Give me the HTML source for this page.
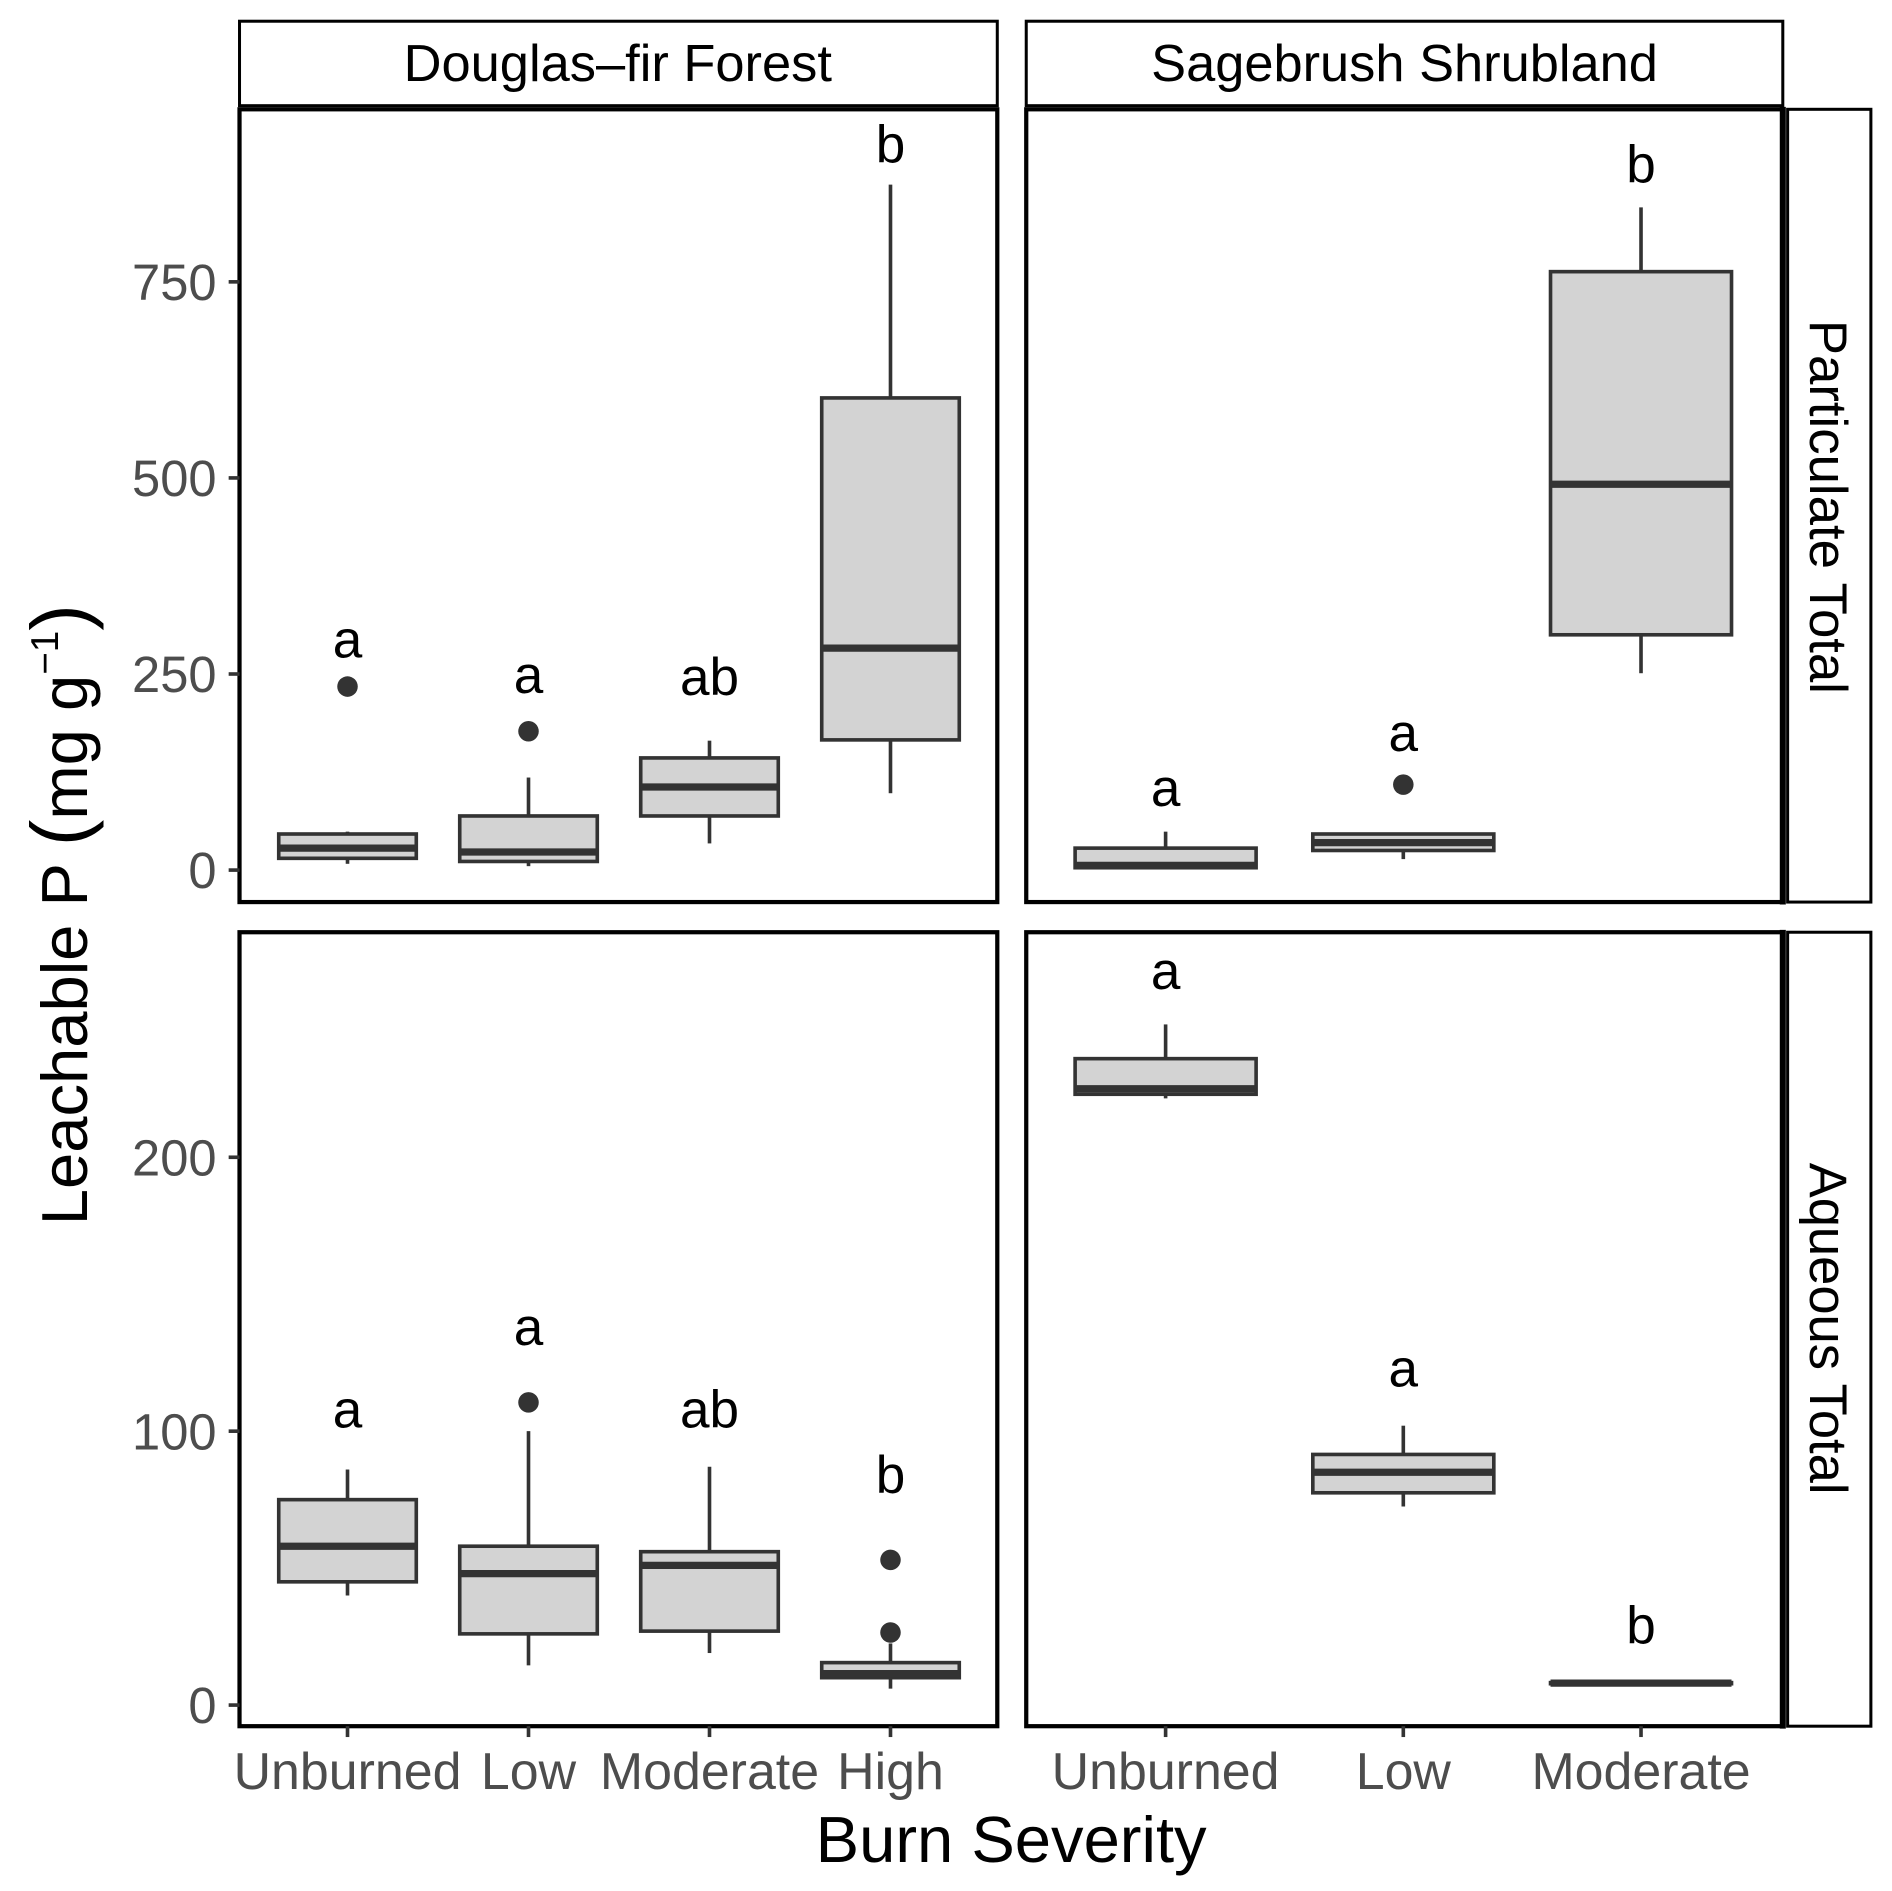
<!DOCTYPE html>
<html><head><meta charset="utf-8"><style>
html,body{margin:0;padding:0;background:#fff}
svg{display:block}
text{font-family:"Liberation Sans",sans-serif}
</style></head><body>
<svg id="chart" width="1892" height="1891" viewBox="0 0 1568 1567" xmlns="http://www.w3.org/2000/svg">
  <g>
    <rect x="198.5" y="17.5" width="628" height="70" fill="#fff" stroke="#000" stroke-width="2.5"/>
    <text x="512" y="67" font-size="43" text-anchor="middle" textLength="355" lengthAdjust="spacingAndGlyphs">Douglas–fir Forest</text>
  </g>
  <g>
    <rect x="850.5" y="17.5" width="627" height="70" fill="#fff" stroke="#000" stroke-width="2.5"/>
    <text x="1164" y="67" font-size="43" text-anchor="middle" textLength="420" lengthAdjust="spacingAndGlyphs">Sagebrush Shrubland</text>
  </g>
  <g>
    <rect x="1481.5" y="90.5" width="69" height="657" fill="#fff" stroke="#000" stroke-width="2.5"/>
    <text transform="translate(1500,420) rotate(90)" font-size="44" text-anchor="middle" textLength="310" lengthAdjust="spacingAndGlyphs">Particulate Total</text>
  </g>
  <g>
    <rect x="1481.5" y="772.5" width="69" height="658" fill="#fff" stroke="#000" stroke-width="2.5"/>
    <text transform="translate(1500,1101) rotate(90)" font-size="44" text-anchor="middle" textLength="275" lengthAdjust="spacingAndGlyphs">Aqueous Total</text>
  </g>
  <text transform="translate(72,758) rotate(-90)" font-size="54" text-anchor="middle">Leachable P <tspan font-size="66">(</tspan>mg g<tspan dy="-24" font-size="32">−1</tspan><tspan dy="24" font-size="66">)</tspan></text>
  <text x="838" y="1543" font-size="54" text-anchor="middle" textLength="324" lengthAdjust="spacingAndGlyphs">Burn Severity</text>
  <g id="marks"></g>
</svg>
<script>
// ---- data ----
const catsLeft = ["Unburned","Low","Moderate","High"];
const catsRight = ["Unburned","Low","Moderate"];
const ticksTop = [0,250,500,750];
const ticksBottom = [0,100,200];
// [whiskerLow, Q1, median, Q3, whiskerHigh]
const dfParticulate = [[8,15,28,46,49],[5,11,23,69,118],[34,69,106,143,165],[98,166,283,602,874]];
const dfParticulateOutliers = [[234],[177],[],[]];
const dfParticulateLetters = ["a","a","ab","b"];
const dfParticulateLetterY = [294,249,246,925];
const sbParticulate = [[1.5,3,6,28,49],[14,25,35,46,46],[251,300,492,763,845]];
const sbParticulateOutliers = [[],[109],[]];
const sbParticulateLetters = ["a","a","b"];
const sbParticulateLetterY = [105,175,900];
const dfAqueous = [[40,45,58,75,86],[14.5,26,48,58,100],[19,27,51,56,87],[6,10,11.5,15.5,22.5]];
const dfAqueousOutliers = [[],[110.5],[],[26.5,53]];
const dfAqueousLetters = ["a","a","ab","b"];
const dfAqueousLetterY = [108,138,108,84];
const sbAqueous = [[221.5,223,225,236,248.5],[72.5,77.5,85,91.5,102],[7.5,7.8,8,8.2,8.5]];
const sbAqueousOutliers = [[],[],[]];
const sbAqueousLetters = ["a","a","b"];
const sbAqueousLetterY = [268,123,29];

const NS="http://www.w3.org/2000/svg";
const root=document.getElementById('marks');
function mk(tag,attrs,parent){const e=document.createElementNS(NS,tag);for(const k in attrs)e.setAttribute(k,attrs[k]);(parent||root).appendChild(e);return e;}

const yTop=v=>721-0.65*v;
const yBot=v=>1413-2.27*v;
const xLeft=i=>288+150*i;
const xRight=i=>966+197*i;

function panel(name,x0,x1,y0,y1,cats,xf,yf,boxes,outs,letters,letterY,bw,ticks,showX,rightThick){
  const g=mk('g',{});
  
  
  boxes.forEach((b,i)=>{
    const cx=xf(i);
    const bg=mk('g',{},g);
    
    
    mk('line',{x1:cx,x2:cx,y1:yf(b[0]),y2:yf(b[1]),stroke:'#333','stroke-width':3},bg);
    mk('line',{x1:cx,x2:cx,y1:yf(b[3]),y2:yf(b[4]),stroke:'#333','stroke-width':3},bg);
    mk('rect',{x:cx-bw/2,y:yf(b[3]),width:bw,height:Math.max(yf(b[1])-yf(b[3]),0.5),fill:'#d3d3d3',stroke:'#333','stroke-width':3},bg);
    mk('line',{x1:cx-bw/2,x2:cx+bw/2,y1:yf(b[2]),y2:yf(b[2]),stroke:'#333','stroke-width':6},bg);
    outs[i].forEach(o=>{
      const c=mk('circle',{cx:cx,cy:yf(o),r:8.5,fill:'#333'},bg);
      
      
    });
    const t=mk('text',{x:cx,y:yf(letterY[i])+15,'font-size':44,'text-anchor':'middle'},g);
    t.textContent=letters[i];
    
    
  });
  const fr=mk('rect',{x:x0,y:y0,width:x1-x0,height:y1-y0,fill:'none',stroke:'#000','stroke-width':3.5},g);
  
  
  if(rightThick) mk('line',{x1:x1,x2:x1,y1:y0-2,y2:y1+2,stroke:'#000','stroke-width':5},g);
  if(ticks){
    ticks.forEach(v=>{
      mk('line',{x1:x0-9,x2:x0,y1:yf(v),y2:yf(v),stroke:'#333','stroke-width':3},g);
      const t=mk('text',{x:x0-19,y:yf(v)+15,'font-size':42,fill:'#4d4d4d','text-anchor':'end'},g);
      t.textContent=v;
      
      
    });
  }
  if(showX){
    cats.forEach((c,i)=>{
      mk('line',{x1:xf(i),x2:xf(i),y1:y1,y2:y1+9,stroke:'#333','stroke-width':3},g);
      const t=mk('text',{x:xf(i),y:y1+52,'font-size':43,fill:'#4d4d4d','text-anchor':'middle'},g);
      t.textContent=c;
      
      
    });
  }
}
panel('panel-df-particulate',198.5,826.5,90.5,747.5,catsLeft,xLeft,yTop,dfParticulate,dfParticulateOutliers,dfParticulateLetters,dfParticulateLetterY,114,ticksTop,false,false);
panel('panel-sb-particulate',850.5,1477.5,90.5,747.5,catsRight,xRight,yTop,sbParticulate,sbParticulateOutliers,sbParticulateLetters,sbParticulateLetterY,150,null,false,true);
panel('panel-df-aqueous',198.5,826.5,772.5,1430.5,catsLeft,xLeft,yBot,dfAqueous,dfAqueousOutliers,dfAqueousLetters,dfAqueousLetterY,114,ticksBottom,true,false);
panel('panel-sb-aqueous',850.5,1477.5,772.5,1430.5,catsRight,xRight,yBot,sbAqueous,sbAqueousOutliers,sbAqueousLetters,sbAqueousLetterY,150,null,true,true);
</script>
</body></html>
